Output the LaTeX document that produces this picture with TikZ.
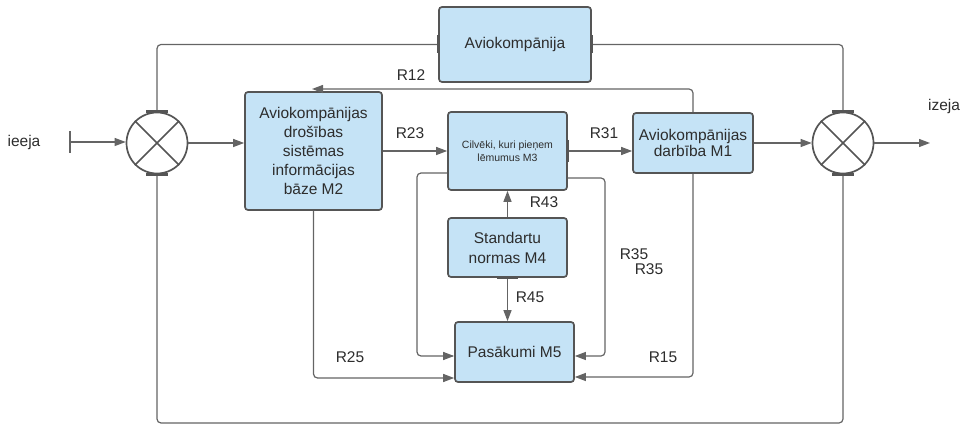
\documentclass[tikz,border=0pt]{standalone}
\usepackage{fontspec}
\setmainfont{Liberation Sans}
\usetikzlibrary{arrows.meta}
\definecolor{boxfill}{RGB}{197,227,246}
\definecolor{boxline}{RGB}{85,85,85}
\definecolor{wire}{RGB}{100,100,100}
\definecolor{ink}{RGB}{45,45,45}
\tikzset{
  block/.style={draw=boxline, fill=boxfill, line width=1.7pt, rounded corners=3pt,
    inner sep=0pt, align=center, text=ink, font=\fontsize{15.5}{19}\selectfont},
  mixer/.style={circle, draw=boxline, line width=1.7pt, minimum size=61pt, inner sep=0pt},
  wirel/.style={draw=wire, line width=1.2pt, rounded corners=4pt},
  flow/.style={wirel, -{Triangle[length=11pt,width=8pt]}},
  lbl/.style={text=ink, font=\fontsize{15.5}{18}\selectfont, inner sep=0pt},
  port/.style={draw=boxline, line width=3pt}
}
\begin{document}
\begin{tikzpicture}[x=1pt, y=-1pt]
\useasboundingbox (0,0) rectangle (966,427);

% summing junctions
\node[mixer] (s1) at (157,143) {};
\node[mixer] (s2) at (843,143) {};
\foreach \s in {s1,s2}{
  \draw[boxline, line width=1.7pt] (\s.north east) -- (\s.south west);
  \draw[boxline, line width=1.7pt] (\s.north west) -- (\s.south east);
}

% blocks
\node[block, minimum width=152pt, minimum height=75pt] (av) at (515,44.5) {Aviokompānija};
\node[block, minimum width=137pt, minimum height=118pt] (m2) at (313.5,151) {Aviokompānijas\\drošības\\sistēmas\\informācijas\\bāze M2};
\node[block, minimum width=119pt, minimum height=78pt, font=\fontsize{10.5}{13}\selectfont] (m3) at (507.5,151) {Cilvēki, kuri pieņem\\lēmumus M3};
\node[block, minimum width=120pt, minimum height=60pt, font=\fontsize{15.5}{15.5}\selectfont] (m1) at (693,143) {Aviokompānijas\\darbība M1};
\node[block, minimum width=119pt, minimum height=59pt, font=\fontsize{15.5}{20}\selectfont] (m4) at (507.5,247.5) {Standartu\\normas M4};
\node[block, minimum width=119pt, minimum height=60pt] (m5) at (514.5,352) {Pasākumi M5};

% free ends and bends
\coordinate (in) at (70,142);
\coordinate (out) at (930,143);
\coordinate (r12end) at (312,89);
\coordinate (lk) at (417,173);
\coordinate (rk) at (605,178);
\coordinate (lo) at (157,423);
\coordinate (ro) at (843,423);

% input / output
\draw[wire, line width=1.2pt] (70,131) -- (70,153);
\draw[flow] (in) -- (s1.west |- in);
\draw[flow] (s1.east) -- (s1.east -| m2.west);
\draw[flow] (s2.east) -- (out);
\draw[flow] (m1.east) -- (s2.west);

% outer loops
\draw[wirel] (s1.north) |- (av.west);
\draw[wirel] (av.east) -| (s2.north);
\draw[wirel] (s1.south) -- (lo) -- (ro) -- (s2.south);

% internal flows
\draw[flow] (m1.north) |- (r12end);
\draw[flow] (m2.east |- m3.west) -- (m3.west);
\draw[flow] (m3.east) -- (m3.east -| m1.west);
\draw[flow] (m4.north) -- (m4.north |- m3.south);
\draw[flow] (m4.south) -- (m4.south |- m5.north);
\draw[flow] (lk -| m3.west) -- (lk) -- (417,356) -- (455,356) -- (m5.west |- 0,356);
\draw[flow] (rk -| m3.east) -- (rk) -- (605,356) -- (m5.east |- 0,356);
\draw[flow] (m2.south) -- (313.5,378) -- (m5.west |- 0,378);
\draw[flow] (m1.south) -- (693,377) -- (m5.east |- 0,377);

% connection ports
\draw[port] (av.west) ++(0,-9) -- ++(0,18);
\draw[port] (av.east) ++(0,-9) -- ++(0,18);
\draw[port] (m3.east) ++(0,-11) -- ++(0,22);
\draw[port] (m4.south) ++(-11,0) -- ++(21,0);
\foreach \s in {s1,s2}{
  \draw[port] (\s.north) ++(-11,0) -- ++(22,0);
  \draw[port] (\s.south) ++(-11,0) -- ++(22,0);
}

% labels
\node[lbl] (lin) at (24,142) {ieeja};
\node[lbl] (lout) at (944,106) {izeja};
\node[lbl] (l12) at (411,75) {R12};
\node[lbl] (l23) at (410,133) {R23};
\node[lbl] (l31) at (604,133) {R31};
\node[lbl] (l43) at (544,202) {R43};
\node[lbl] (l45) at (530,297) {R45};
\node[lbl] (l35a) at (634,254) {R35};
\node[lbl] (l35b) at (649,269) {R35};
\node[lbl] (l25) at (350,357) {R25};
\node[lbl] (l15) at (663,357) {R15};
\end{tikzpicture}
\end{document}
